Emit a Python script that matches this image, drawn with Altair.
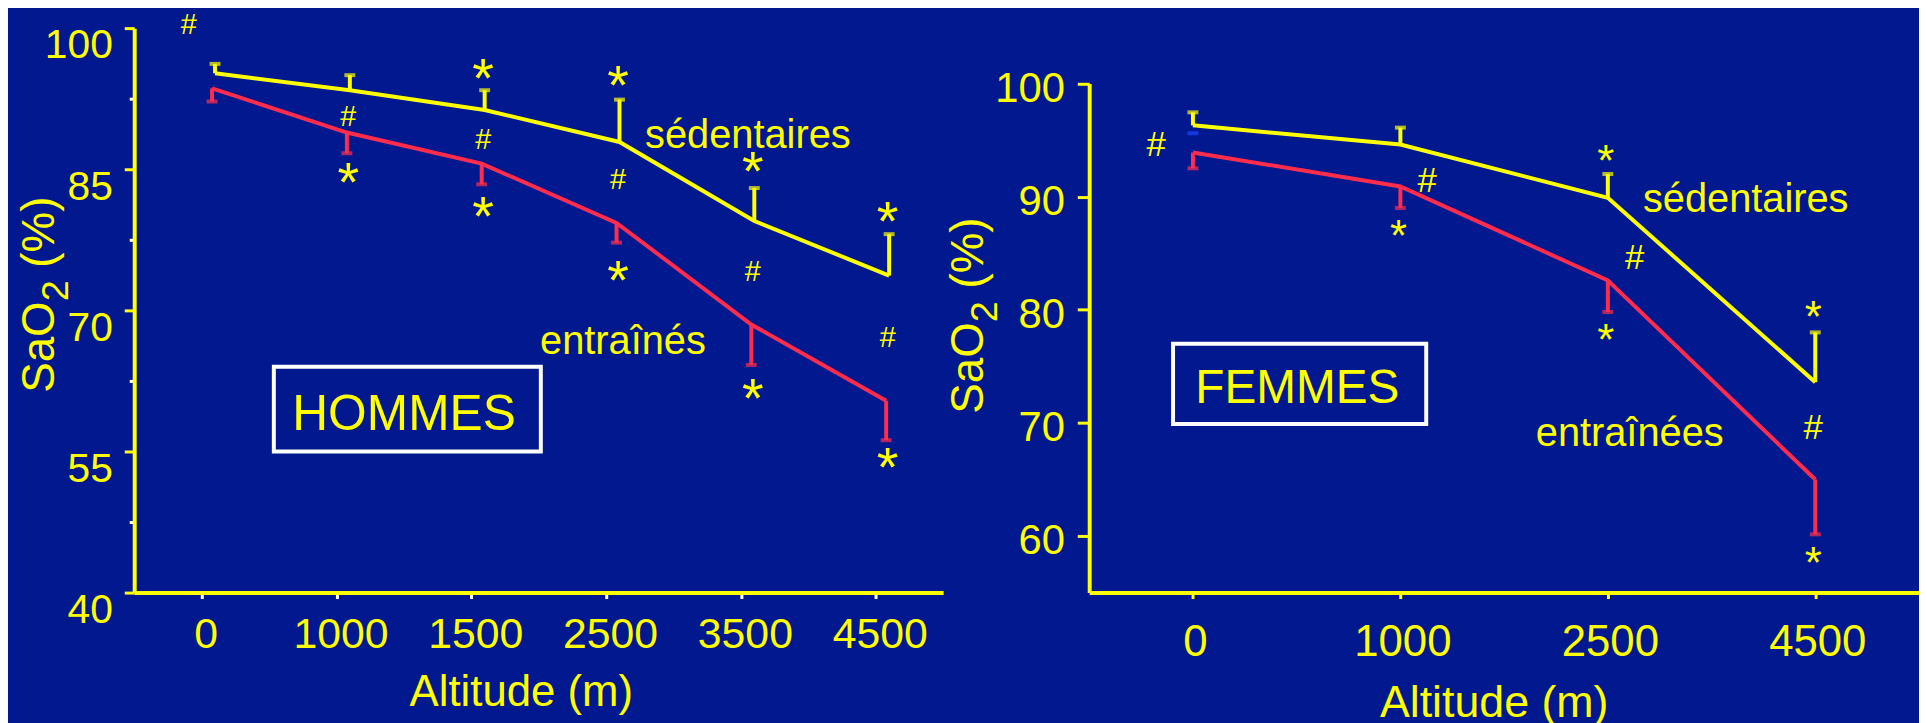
import altair as alt
import pandas as pd

BG = "#02188E"
YEL = "#FFFF00"
RED = "#FF2D4B"
WHITE = "#FFFFFF"
BLUE = "#1E46FF"
FONT = "Liberation Sans, Arial, Helvetica, sans-serif"
NARROW = "Liberation Sans Narrow, Arial Narrow, Liberation Sans, sans-serif"

# ---------------- HOMMES ----------------
alt_h = ["0", "1000", "1500", "2500", "3500", "4500"]
sed_h = [95.2, 93.4, 91.3, 87.9, 79.5, 73.7]
sed_h_sd = [96.2, 95.0, 93.4, 92.4, 83.0, 78.1]
ent_h = [93.6, 88.9, 85.6, 79.3, 68.5, 60.4]
ent_h_sd = [92.2, 86.7, 83.4, 77.2, 64.2, 56.2]

ann_h_alt = ["0", "1500", "2500", "3500", "4500",
             "1000", "1500", "2500", "3500", "4500",
             "1000", "1500", "2500", "3500", "4500"]
ann_h_val = [100.45, 95.3, 94.5, 85.4, 80.1,
             90.7, 88.2, 84.0, 74.2, 67.15,
             84.2, 80.6, 73.8, 61.3, 53.9]
ann_h_sym = ["#", "*", "*", "*", "*",
             "#", "#", "#", "#", "#",
             "*", "*", "*", "*", "*"]
ann_h_side = ["left"] + ["center"] * 14

lab_h_text = ["sédentaires", "entraînés"]
lab_h_alt = ["3500", "2500"]
lab_h_val = [87.3, 65.35]

# ---------------- FEMMES ----------------
alt_f = ["0", "1000", "2500", "4500"]
sed_f = [96.3, 94.6, 89.9, 73.6]
sed_f_sd = [97.45, 96.1, 92.0, 78.0]
ent_f = [93.9, 90.9, 82.6, 65.0]
ent_f_sd = [92.5, 89.0, 79.8, 60.15]
blue_f_alt = ["0"]
blue_f_val = [95.6]

ann_f_alt = ["0", "1000", "1000", "2500", "2500", "2500", "4500", "4500", "4500"]
ann_f_val = [94.65, 91.5, 86.86, 93.48, 84.71, 77.69, 79.74, 69.65, 58.02]
ann_f_sym = ["#", "#", "*", "*", "#", "*", "*", "#", "*"]
ann_f_side = ["left", "right", "center", "center", "right", "center", "center", "center", "center"]

lab_f_text = ["sédentaires", "entraînées"]
lab_f_alt = ["4500", "2500"]
lab_f_val = [88.6, 68.0]

# y-axis title pieces: "SaO" + subscript "2" + " (%)"
ytitle_parts = ["SaO", "2", "(%)"]


def series_df(alts, vals, sds):
    return pd.DataFrame({"alt": alts, "v": vals, "v2": sds})


def ann_df(alts, vals, syms, sides):
    return pd.DataFrame({"alt": alts, "v": vals, "sym": syms, "side": sides})


def ytitle_layers(base_x, bottom_y):
    # rotated title drawn bottom-to-top with a real lowered subscript
    one = pd.DataFrame({"k": [0]})
    main_fs, sub_fs = 46, 38
    w_main = 2.001 * main_fs
    w_sub = 0.556 * sub_fs
    w_space = 0.278 * main_fs
    specs = [
        (ytitle_parts[0], main_fs, base_x, bottom_y),
        (ytitle_parts[1], sub_fs, base_x + 14, bottom_y - w_main),
        (ytitle_parts[2], main_fs, base_x, bottom_y - w_main - w_sub - w_space),
    ]
    out = []
    for txt, fs, x, y in specs:
        out.append(
            alt.Chart(one).mark_text(color=YEL, font=FONT, fontSize=fs, angle=270, align="left",
                                     baseline="alphabetic")
            .encode(x=alt.value(x), y=alt.value(y), text=alt.value(txt))
        )
    return out


def build_panel(alts, sed, sed_sd, ent, ent_sd, ann, labels, box, xaxis, yaxis, yscale,
                width, off_sed, off_ent, fs_hash, fs_star, dx_side, title_pos, extra=None):
    X = alt.X("alt:N", sort=alts, scale=alt.Scale(type="point", padding=0.5, domain=alts), axis=xaxis)
    Y = alt.Y("v:Q", scale=yscale, axis=yaxis)
    layers = []
    for vals, sds, color, off in [(sed, sed_sd, YEL, off_sed), (ent, ent_sd, RED, off_ent)]:
        d = series_df(alts, vals, sds)
        base = alt.Chart(d)
        layers.append(base.mark_rule(color=color, strokeWidth=4, xOffset=off).encode(x=X, y=Y, y2="v2:Q"))
        layers.append(base.mark_tick(color=color, size=11, thickness=4, xOffset=off).encode(x=X, y=alt.Y("v2:Q", scale=yscale, axis=yaxis)))
        layers.append(base.mark_line(color=color, strokeWidth=4, xOffset=off, strokeJoin="miter").encode(x=X, y=Y))
    if extra is not None:
        layers.append(alt.Chart(extra).mark_tick(color=BLUE, size=11, thickness=4).encode(x=X, y=Y))
    a = alt.Chart(ann)
    for sym, fs, dyf in [("#", fs_hash, 0.35), ("*", fs_star, 0.44)]:
        for side, dx in dx_side.items():
            layers.append(
                a.transform_filter((alt.datum.sym == sym) & (alt.datum.side == side))
                .mark_text(color=YEL, font=FONT, fontSize=fs, baseline="alphabetic", align="center",
                           dx=dx, dy=dyf * fs)
                .encode(x=X, y=Y, text="sym:N")
            )
    for (txt, a_, v_, dx) in labels:
        ld = pd.DataFrame({"alt": [a_], "v": [v_], "t": [txt]})
        layers.append(alt.Chart(ld).mark_text(color=YEL, font=FONT, fontSize=40, baseline="alphabetic",
                                              align="center", dx=dx).encode(x=X, y=Y, text="t:N"))
    (bx1, bo1, bx2, bo2, by1, by2, btxt, bdx, bty, bfs) = box
    bd = pd.DataFrame({"alt": [bx1], "x2": [bx2], "v": [by1], "v2": [by2]})
    layers.append(alt.Chart(bd).mark_rect(fill=BG, stroke=WHITE, strokeWidth=4, xOffset=bo1, x2Offset=bo2)
                  .encode(x=X, x2="x2:N", y=Y, y2="v2:Q"))
    td = pd.DataFrame({"alt": [bx1], "v": [bty], "t": [btxt]})
    layers.append(alt.Chart(td).mark_text(color=YEL, font=FONT, fontSize=bfs, baseline="alphabetic",
                                          align="center", dx=bdx).encode(x=X, y=Y, text="t:N"))
    layers.extend(ytitle_layers(*title_pos))
    return alt.layer(*layers).properties(width=width, height=568)


minor_test = "datum.value % 15 != 10"
yaxis_h = alt.Axis(
    values=[40, 47.5, 55, 62.5, 70, 77.5, 85, 92.5, 100],
    labelExpr="datum.value % 15 == 10 ? datum.label : ''",
    tickColor={"condition": {"test": minor_test, "value": WHITE}, "value": YEL},
    tickSize={"condition": {"test": minor_test, "value": 5}, "value": 10},
    tickWidth=3, labelFont=NARROW, labelFontSize=41, labelBaseline="top", labelOffset=-2,
    labelPadding=12, title=None,
)
xaxis_h = alt.Axis(
    labelFont=NARROW, labelFontSize=43, labelAngle=0, tickColor=WHITE, tickSize=6, tickWidth=3,
    labelPadding=15, labelOffset=4, title="Altitude (m)", titleFont=FONT, titleFontSize=44,
    titleFontWeight="normal", titleX=389, titleY=114, titleBaseline="alphabetic", titleAlign="center",
)
yscale_h = alt.Scale(domain=[40, 100], nice=False, zero=False)

yaxis_f = alt.Axis(
    values=[60, 70, 80, 90, 100], tickColor=YEL, tickSize=12, tickWidth=3, labelFont=FONT,
    labelFontSize=42, labelOffset=5, labelPadding=13, title=None,
)
xaxis_f = alt.Axis(
    labelFont=FONT, labelFontSize=44, labelAngle=0, tickColor=YEL, tickSize=6, tickWidth=3,
    labelPadding=22, labelOffset=2, title="Altitude (m)", titleFont=FONT, titleFontSize=45,
    titleFontWeight="normal", titleX=407, titleY=125, titleBaseline="alphabetic", titleAlign="center",
)
yscale_f = alt.Scale(domain=[55, 100], nice=False, zero=False, range=[568, 55.7])

left = build_panel(
    alt_h, sed_h, sed_h_sd, ent_h, ent_h_sd,
    ann_df(ann_h_alt, ann_h_val, ann_h_sym, ann_h_side),
    [(lab_h_text[0], lab_h_alt[0], lab_h_val[0], 7), (lab_h_text[1], lab_h_alt[1], lab_h_val[1], 17)],
    ("1000", -63, "1500", 70, 64.0, 55.0, "HOMMES", 68, 57.3, 50),
    xaxis_h, yaxis_h, yscale_h, 814, 13.5, 10.5, 29, 56, {"left": -13, "center": 12},
    title_pos=(-81, 367),
)

right = build_panel(
    alt_f, sed_f, sed_f_sd, ent_f, ent_f_sd,
    ann_df(ann_f_alt, ann_f_val, ann_f_sym, ann_f_side),
    [(lab_f_text[0], lab_f_alt[0], lab_f_val[0], -70), (lab_f_text[1], lab_f_alt[1], lab_f_val[1], 22)],
    ("0", -20, "1000", 26, 77.0, 69.9, "FEMMES", 105, 71.77, 48),
    xaxis_f, yaxis_f, yscale_f, 835, 0, 0, 35, 44, {"left": -37, "right": 27, "center": -2},
    title_pos=(-107, 388),
    extra=pd.DataFrame({"alt": blue_f_alt, "v": blue_f_val}),
)

chart = (
    alt.hconcat(left, right, spacing=147, bounds="flush")
    .properties(padding={"left": 9, "top": 0, "right": 0, "bottom": 0})
    .configure(background=BG)
    .configure_view(stroke=None)
    .configure_axis(grid=False, domainColor=YEL, domainWidth=4, labelColor=YEL, titleColor=YEL)
)

chart.save("out.html", embed_options={"renderer": "svg", "actions": False})
